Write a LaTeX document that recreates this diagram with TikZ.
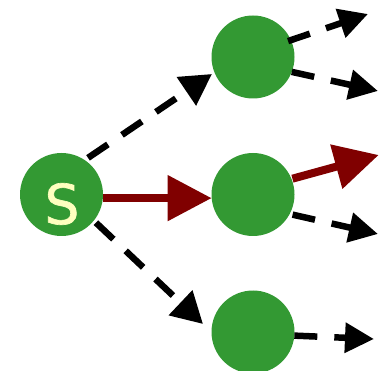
\documentclass[tikz,border=0pt]{standalone}
\usepackage{fontspec}
\setmainfont{DejaVu Sans}
\newfontfamily\startfont[FakeBold=1.2]{DejaVu Sans}
\usetikzlibrary{arrows.meta}
\definecolor{nodegreen}{HTML}{339933}
\definecolor{pathred}{HTML}{800000}
\definecolor{startcol}{HTML}{FFFFBF}
\tikzset{
  state/.style={circle,fill=nodegreen,draw=none,minimum size=83pt,inner sep=0pt,outer sep=0pt},
  dashedge/.style={black,line width=6.5pt,dash pattern=on 23pt off 17pt,-{Triangle[length=29pt,width=29pt]}},
  bigdash/.style={black,line width=6.5pt,dash pattern=on 24pt off 17pt,-{Triangle[length=31pt,width=33pt]}},
  rededge/.style={pathred,line width=8pt,-{Triangle[length=44pt,width=44pt]}}
}
\begin{document}
\begin{tikzpicture}[x=1pt,y=-1pt]
\useasboundingbox (0,0) rectangle (380,371);
\clip (0,0) rectangle (380,371);
\node[state] (S) at (61.5,194.5) {};
\node[state] (A) at (253,57) {};
\node[state] (B) at (253,194.5) {};
\node[state] (C) at (253,332) {};
\node[text=startcol,font=\startfont\fontsize{55pt}{55pt}\selectfont,inner sep=0pt,anchor=center] (L) at (62,204) {S};
\coordinate (e1) at (368,14);
\coordinate (e2) at (378,91);
\coordinate (e3) at (378.7,155);
\coordinate (e4) at (378,234);
\coordinate (e5) at (374,339);
\coordinate (ta) at (212,74);
\coordinate (tc) at (203,324);
\draw[bigdash,shorten <=4pt] (S.56) -- (ta);
\draw[bigdash,shorten <=3pt] (S.-39.6) -- (tc);
\draw[rededge] (S.-5.5) -- (B.185);
\draw[dashedge,shorten <=-3pt] (A.24) -- (e1);
\draw[dashedge] (A.-21) -- (e2);
\draw[rededge,shorten <=1pt] (B.22.4) -- (e3);
\draw[dashedge,shorten <=3pt] (B.-28.3) -- (e4);
\draw[dashedge] (C.-5.5) -- (e5);
\end{tikzpicture}
\end{document}
